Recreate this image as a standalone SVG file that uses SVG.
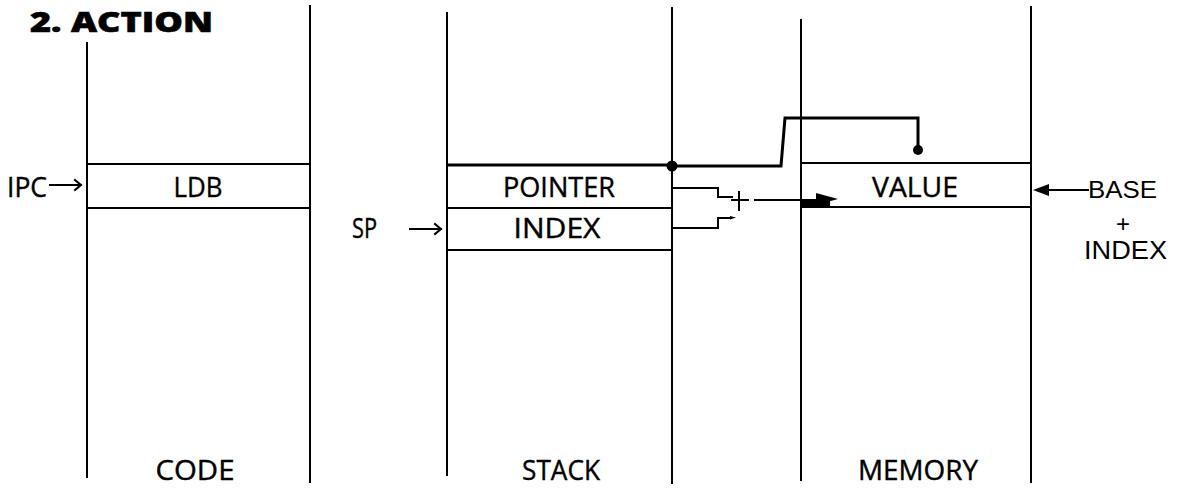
<svg xmlns="http://www.w3.org/2000/svg" width="1184" height="489" viewBox="0 0 1184 489">
<style>
.ln{stroke:#000;stroke-width:2;fill:none;stroke-linecap:square}
.thk{stroke:#000;stroke-width:3;fill:none;stroke-linejoin:miter}
.t{font-family:"Open Sans","Liberation Sans",sans-serif;font-size:27px;fill:#000;stroke:#000;stroke-width:0.4}
.h{font-family:"Liberation Sans",Arial,sans-serif;fill:#000}
.ttl{font-family:"Open Sans","Liberation Sans",sans-serif;font-weight:800;font-size:29px;fill:#000;stroke:#000;stroke-width:0.6}
</style>
<rect width="1184" height="489" fill="#fff"/>
<text class="ttl" x="30" y="32" textLength="183" lengthAdjust="spacingAndGlyphs">2. ACTION</text>

<g id="code">
  <path class="ln" d="M87,43 V477 M310,6 V482 M87,164 H310 M87,208 H310"/>
  <text class="t" x="198" y="197" text-anchor="middle" textLength="49" lengthAdjust="spacingAndGlyphs">LDB</text>
  <text class="t" x="195" y="480" text-anchor="middle" textLength="79" lengthAdjust="spacingAndGlyphs">CODE</text>
</g>

<g id="ipc">
  <text class="t" x="7" y="197" textLength="40" lengthAdjust="spacingAndGlyphs">IPC</text>
  <path class="ln" d="M50,185 H81 M75,180 L81,185 L75,190"/>
</g>

<g id="stack">
  <path class="ln" d="M447,13 V475 M672,8 V483 M447,208 H672 M447,250 H672"/>
  <path class="thk" d="M447,165 H672"/>
  <text class="t" x="559" y="197" text-anchor="middle" textLength="112" lengthAdjust="spacingAndGlyphs">POINTER</text>
  <text class="t" x="557" y="238" text-anchor="middle" textLength="87" lengthAdjust="spacingAndGlyphs">INDEX</text>
  <text class="t" x="561" y="480" text-anchor="middle" textLength="78" lengthAdjust="spacingAndGlyphs">STACK</text>
</g>

<g id="sp">
  <text class="t" x="352" y="238" textLength="25" lengthAdjust="spacingAndGlyphs">SP</text>
  <path class="ln" d="M410,229 H441 M435,224 L441,229 L435,234"/>
</g>

<g id="memory">
  <path class="ln" d="M801,20 V480 M1031,7 V482 M801,163 H1031 M801,207 H1031"/>
  <text class="t" x="915" y="197" text-anchor="middle" textLength="86" lengthAdjust="spacingAndGlyphs">VALUE</text>
  <text class="t" x="918" y="480" text-anchor="middle" textLength="120" lengthAdjust="spacingAndGlyphs">MEMORY</text>
</g>

<g id="base-index">
  <text class="h" x="1088" y="198" font-size="23" textLength="69" lengthAdjust="spacingAndGlyphs">BASE</text>
  <text class="h" x="1123" y="232" font-size="24" text-anchor="middle">+</text>
  <text class="h" x="1084" y="259" font-size="26" textLength="83" lengthAdjust="spacingAndGlyphs">INDEX</text>
</g>

<g id="connectors">
  <path class="thk" d="M672,166 H781 L785,118 H918 V148"/>
  <circle cx="918" cy="150" r="5" fill="#000"/>
  <circle cx="672" cy="166" r="5.5" fill="#000"/>
  <path class="ln" d="M672,188 H718 V197 H732"/>
  <path class="ln" d="M732,200 H748 M739,192 V210" stroke-width="1.5"/>
  <path class="ln" d="M672,228 H718 V218 H731"/>
  <path d="M730,216 L736,217.5 L730,219.5 Z" fill="#000"/>
  <path class="ln" d="M755,200 H820"/>
  <path d="M801,199 H830 V207 H801 Z" fill="#000"/>
  <polygon points="816,193 838,199 816,205" fill="#000"/>
  <path class="ln" d="M1088,190 H1046"/>
  <polygon points="1033,190 1049,184 1049,196" fill="#000"/>
</g>
</svg>
